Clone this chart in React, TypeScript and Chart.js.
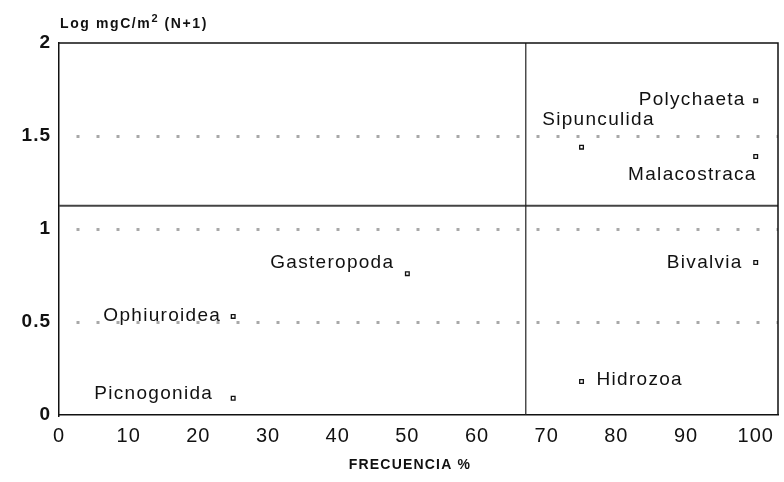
import React, { useEffect, useRef } from "react";
import { Chart, registerables } from "chart.js";

Chart.register(...registerables);

// ---- data ----
const taxa = [
  "Polychaeta",
  "Sipunculida",
  "Malacostraca",
  "Gasteropoda",
  "Ophiuroidea",
  "Picnogonida",
  "Bivalvia",
  "Hidrozoa",
];
const frecuencia = [100, 75, 100, 50, 25, 25, 100, 75];
const logBiomasa = [1.69, 1.44, 1.39, 0.76, 0.53, 0.09, 0.82, 0.18];

const xTicks = [0, 10, 20, 30, 40, 50, 60, 70, 80, 90, 100];
const yTicks = [0, 0.5, 1, 1.5, 2];
const xMax = 103.2;
const yMax = 2;
const dividerX = 67;
const dividerY = 1.125;

const yTitle = ["Log mgC/m", "2", " (N+1)"];
const xTitle = "FRECUENCIA %";

// ---- label placement (style) ----
const labelPlacement: Record<string, { align: CanvasTextAlign; dx: number; dy: number }> = {
  Polychaeta: { align: "right", dx: -10, dy: 4 },
  Sipunculida: { align: "center", dx: 17, dy: -22 },
  Malacostraca: { align: "right", dx: 1, dy: 24 },
  Gasteropoda: { align: "right", dx: -13, dy: -6 },
  Ophiuroidea: { align: "right", dx: -12, dy: 5 },
  Picnogonida: { align: "right", dx: -20, dy: 1 },
  Bivalvia: { align: "right", dx: -13, dy: 6 },
  Hidrozoa: { align: "left", dx: 15, dy: 3 },
};

const FONT = "'Liberation Sans', Arial, sans-serif";

const overlayPlugin = {
  id: "overlay",
  beforeDraw(chart: any) {
    const ctx = chart.ctx;
    ctx.save();
    ctx.fillStyle = "#ffffff";
    ctx.fillRect(0, 0, chart.width, chart.height);
    ctx.restore();
    (ctx as any).letterSpacing = "1px";
  },
  afterDatasetsDraw(chart: any) {
    const { ctx, chartArea: a, scales } = chart;
    const xs = scales.x;
    const ys = scales.y;
    ctx.save();
    // frame top & right
    ctx.strokeStyle = "#111";
    ctx.lineWidth = 1.5;
    ctx.beginPath();
    ctx.moveTo(a.left, a.top);
    ctx.lineTo(a.right, a.top);
    ctx.lineTo(a.right, a.bottom);
    ctx.stroke();

    // point labels
    ctx.fillStyle = "#111";
    ctx.font = `19px ${FONT}`;
    (ctx as any).letterSpacing = "1.3px";
    ctx.textBaseline = "alphabetic";
    taxa.forEach((name, i) => {
      const p = labelPlacement[name];
      const px = xs.getPixelForValue(frecuencia[i]);
      const py = ys.getPixelForValue(logBiomasa[i]);
      ctx.textAlign = p.align;
      ctx.fillText(name, px + p.dx, py + p.dy);
    });

    // y title
    ctx.textAlign = "left";
    (ctx as any).letterSpacing = "1.6px";
    ctx.font = `bold 14px ${FONT}`;
    let tx = a.left + 1;
    const ty = 28;
    ctx.fillText(yTitle[0], tx, ty);
    tx += ctx.measureText(yTitle[0]).width;
    ctx.font = `bold 11px ${FONT}`;
    ctx.fillText(yTitle[1], tx, ty - 6);
    tx += ctx.measureText(yTitle[1]).width;
    ctx.font = `bold 14px ${FONT}`;
    ctx.fillText(yTitle[2], tx, ty);

    // x title
    ctx.textAlign = "center";
    (ctx as any).letterSpacing = "1.2px";
    ctx.font = `bold 14px ${FONT}`;
    ctx.fillText(xTitle, 410, 469);
    ctx.restore();
  },
};

export default function App() {
  const ref = useRef<HTMLCanvasElement | null>(null);

  useEffect(() => {
    document.body.style.margin = "0";
    const canvas = ref.current;
    if (!canvas) return;
    const points = taxa.map((_, i) => ({ x: frecuencia[i], y: logBiomasa[i] }));
    const chart = new Chart(canvas, {
      type: "scatter",
      data: {
        datasets: [
          {
            type: "line",
            data: [
              { x: dividerX, y: 0 },
              { x: dividerX, y: yMax },
            ],
            borderColor: "#222",
            borderWidth: 1.2,
            pointRadius: 0,
          } as any,
          {
            type: "line",
            data: [
              { x: 0, y: dividerY },
              { x: xMax, y: dividerY },
            ],
            borderColor: "#444",
            borderWidth: 2,
            pointRadius: 0,
          } as any,
          {
            data: points,
            pointStyle: "rect",
            pointRadius: 2.6,
            borderWidth: 1.3,
            borderColor: "#111",
            backgroundColor: "#fff",
          },
        ],
      },
      options: {
        responsive: false,
        animation: false,
        events: [],
        layout: { padding: { top: 43, right: 6, left: 0, bottom: 0 } },
        plugins: {
          legend: { display: false },
          tooltip: { enabled: false },
        },
        scales: {
          x: {
            type: "linear",
            min: 0,
            max: xMax,
            afterBuildTicks: (s: any) => {
              s.ticks = xTicks.map((v) => ({ value: v }));
            },
            afterFit: (s: any) => {
              s.height = 67;
            },
            grid: { display: false, drawTicks: false },
            border: { display: true, color: "#111", width: 1.5 },
            ticks: {
              autoSkip: false,
              maxRotation: 0,
              padding: 9,
              color: "#111",
              font: { family: FONT, size: 20 },
              callback: (v: any) => String(v),
            },
          },
          y: {
            type: "linear",
            min: 0,
            max: yMax,
            afterBuildTicks: (s: any) => {
              s.ticks = yTicks.map((v) => ({ value: v }));
            },
            afterFit: (s: any) => {
              s.width = 59;
            },
            grid: {
              drawTicks: false,
              lineWidth: 3,
              color: (c: any) =>
                c.tick && (c.tick.value === 0 || c.tick.value === yMax)
                  ? "rgba(0,0,0,0)"
                  : "#a8a8a8",
            },
            border: { display: true, color: "#111", width: 1.5, dash: [3, 17], dashOffset: 3 },
            ticks: {
              padding: 8,
              color: "#111",
              font: { family: FONT, size: 19, weight: "bold" },
              callback: (v: any) => String(v),
            },
          },
        },
      },
      plugins: [overlayPlugin],
    } as any);
    return () => chart.destroy();
  }, []);

  return (
    <div style={{ width: 784, height: 482 }}>
      <canvas ref={ref} width={784} height={482} style={{ display: "block" }} />
    </div>
  );
}
